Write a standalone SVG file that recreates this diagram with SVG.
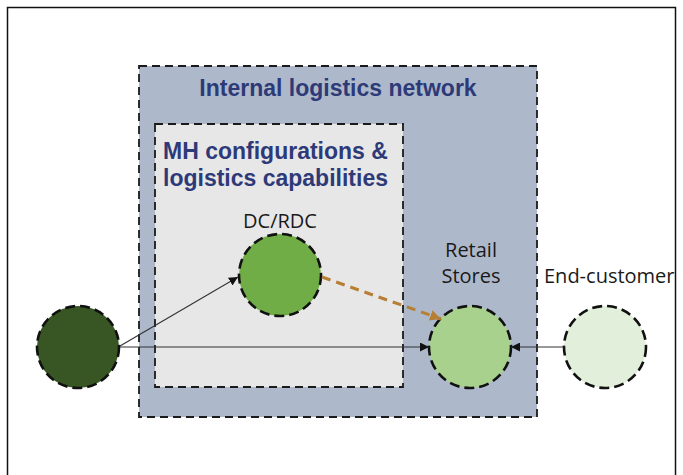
<svg xmlns="http://www.w3.org/2000/svg" width="683" height="475" viewBox="0 0 683 475">
<style>
.box{stroke:#1a1a1a;stroke-width:1.8;stroke-dasharray:8 5}
.node{stroke:#111;stroke-width:2.6;stroke-dasharray:10 5}
.title{font-family:"Liberation Sans",Arial,sans-serif;font-weight:bold;fill:#2e3a78}
.lbl{font-family:"Open Sans","Liberation Sans",sans-serif;fill:#1a1a1a;font-size:20px}
.conn{stroke:#333;stroke-width:1.1;fill:none}
</style>
<defs>
<marker id="ah" viewBox="0 0 10 10" refX="10" refY="5" markerWidth="9" markerHeight="9" markerUnits="userSpaceOnUse" orient="auto"><path d="M0,0 L10,5 L0,10 z" fill="#111"/></marker>
<marker id="ahb" viewBox="0 0 10 10" refX="10" refY="5" markerWidth="11" markerHeight="11" markerUnits="userSpaceOnUse" orient="auto"><path d="M0,0 L10,5 L0,10 z" fill="#b67f33"/></marker>
</defs>
<rect x="0" y="0" width="683" height="475" fill="#fff"/>
<rect x="7.5" y="7.5" width="668" height="480" fill="none" stroke="#111" stroke-width="1.5"/>
<g id="internal-network">
<rect class="box" x="139" y="66" width="398" height="351" fill="#adb9ca"/>
<text class="title" x="338" y="96" font-size="23" text-anchor="middle">Internal logistics network</text>
</g>
<g id="mh-config">
<rect class="box" x="155" y="124" width="248" height="263" fill="#e8e7e8"/>
<text class="title" x="163" y="159" font-size="23">MH configurations &amp;</text>
<text class="title" x="163" y="186" font-size="23">logistics capabilities</text>
</g>
<g id="supplier">
<circle class="node" cx="78" cy="347" r="41" fill="#375623"/>
</g>
<g id="dc-rdc">
<text class="lbl" x="280" y="228" text-anchor="middle">DC/RDC</text>
<circle class="node" cx="280" cy="275" r="41" fill="#70ad47"/>
</g>
<g id="retail-stores">
<text class="lbl" x="471" y="257" text-anchor="middle">Retail</text>
<text class="lbl" x="471" y="283" text-anchor="middle">Stores</text>
<circle class="node" cx="470" cy="347" r="41" fill="#a9d18e"/>
</g>
<g id="end-customer">
<text class="lbl" x="544" y="283">End-customer</text>
<circle class="node" cx="605" cy="347" r="41" fill="#e2efda"/>
</g>
<g id="connectors">
<line class="conn" x1="120" y1="346" x2="238" y2="277" marker-end="url(#ah)"/>
<line class="conn" x1="120" y1="347" x2="429" y2="347" marker-end="url(#ah)"/>
<line class="conn" x1="564" y1="347" x2="511" y2="347" marker-end="url(#ah)"/>
<line x1="322" y1="277" x2="441" y2="319" stroke="#b67f33" stroke-width="3" stroke-dasharray="9 6" marker-end="url(#ahb)"/>
</g>
</svg>
